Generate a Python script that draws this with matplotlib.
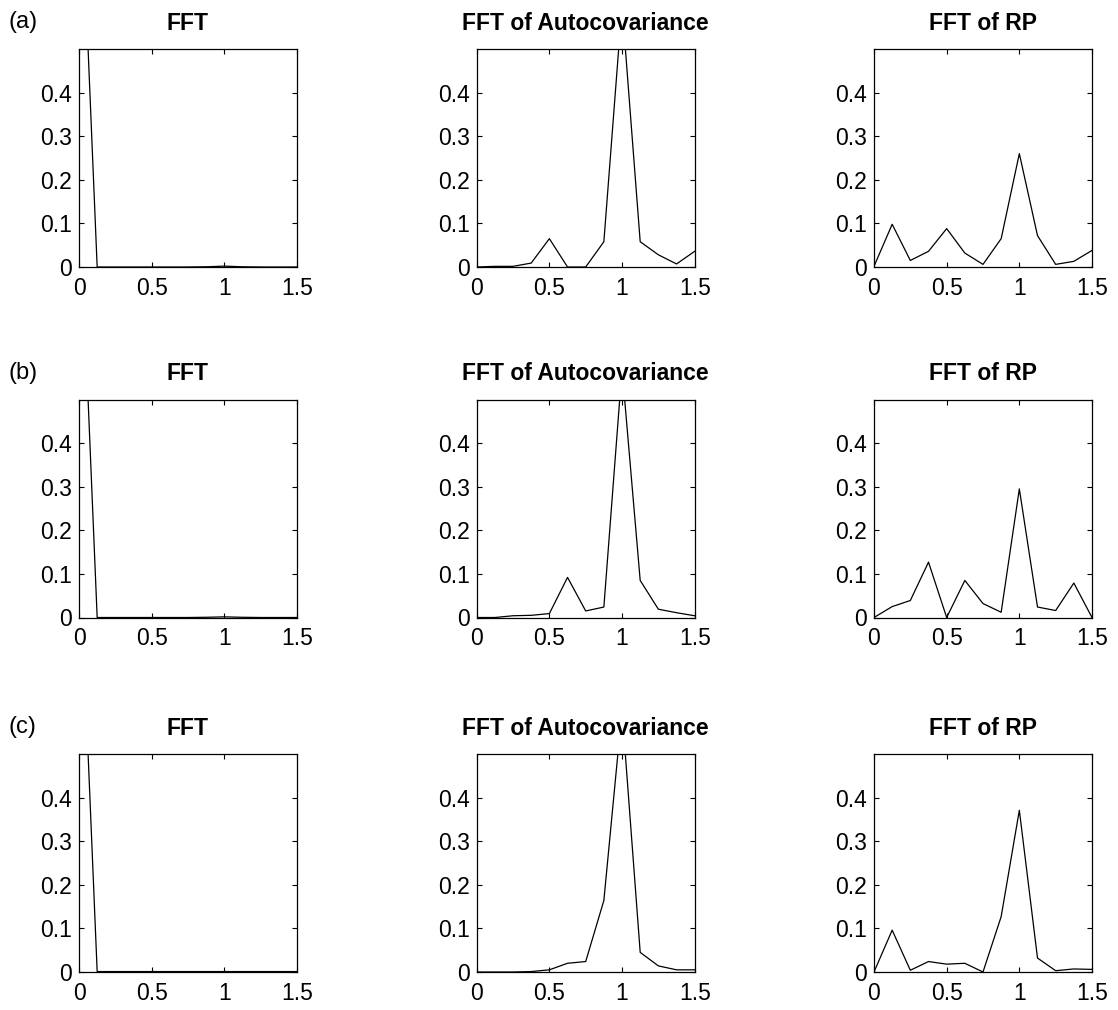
import numpy as np
import matplotlib
matplotlib.use("Agg")
import matplotlib.pyplot as plt

plt.rcParams['font.family'] = ['Liberation Sans', 'DejaVu Sans']

freq = [0, 0.125, 0.25, 0.375, 0.5, 0.625, 0.75, 0.875, 1.0, 1.125, 1.25, 1.375, 1.5]

row_labels = ['(a)', '(b)', '(c)']
col_titles = ['FFT', 'FFT of Autocovariance', 'FFT of RP']

fft_a = [1.0, 0.0, 0.0, 0.0, 0.0, 0.0, 0.0, 0.0005, 0.002, 0.0005, 0.0, 0.0, 0.0]
fft_b = [1.0, 0.0, 0.0, 0.0, 0.0, 0.0, 0.0, 0.0005, 0.0015, 0.0005, 0.0, 0.0, 0.0]
fft_c = [1.0, 0.001, 0.001, 0.001, 0.001, 0.001, 0.001, 0.001, 0.001, 0.001, 0.001, 0.001, 0.001]

acov_a = [0.0, 0.0015, 0.0015, 0.009, 0.065, 0.0, 0.0, 0.058, 0.6, 0.058, 0.028, 0.007, 0.036]
acov_b = [0.0, 0.0, 0.004, 0.005, 0.009, 0.092, 0.015, 0.024, 0.57, 0.085, 0.019, 0.011, 0.004]
acov_c = [0.0, 0.0, 0.0, 0.001, 0.005, 0.02, 0.024, 0.164, 0.6, 0.045, 0.014, 0.005, 0.005]

rp_a = [0.0015, 0.098, 0.015, 0.036, 0.088, 0.032, 0.006, 0.065, 0.26, 0.072, 0.006, 0.013, 0.038]
rp_b = [0.0, 0.025, 0.039, 0.127, 0.0, 0.085, 0.032, 0.012, 0.295, 0.024, 0.016, 0.079, 0.0]
rp_c = [0.0, 0.096, 0.004, 0.024, 0.018, 0.02, 0.0, 0.127, 0.371, 0.032, 0.003, 0.007, 0.006]

data = [[fft_a, acov_a, rp_a],
        [fft_b, acov_b, rp_b],
        [fft_c, acov_c, rp_c]]

xticks = [0, 0.5, 1, 1.5]
xticklabels = ['0', '0.5', '1', '1.5']
yticks = [0, 0.1, 0.2, 0.3, 0.4]
yticklabels = ['0', '0.1', '0.2', '0.3', '0.4']

W, H = 1118, 1010
fig = plt.figure(figsize=(W / 100, H / 100), dpi=100)

col_left = [79, 476.7, 874]
row_top = [49, 399.5, 754]
aw, ah = 218, 218

for r in range(3):
    for c in range(3):
        ax = fig.add_axes([col_left[c] / W, 1 - (row_top[r] + ah) / H, aw / W, ah / H])
        ax.plot(freq, data[r][c], color='black', linewidth=0.9)
        ax.set_xlim(0, 1.5)
        ax.set_ylim(0, 0.5)
        ax.set_xticks(xticks)
        ax.set_xticklabels(xticklabels)
        ax.set_yticks(yticks)
        ax.set_yticklabels(yticklabels)
        ax.tick_params(direction='in', length=3.5, width=0.8, top=True, right=True,
                       labelsize=16.5, colors='black')
        ax.tick_params(axis='y', pad=5)
        ax.tick_params(axis='x', pad=7)
        for s in ax.spines.values():
            s.set_linewidth(0.9)
        ax.set_title(col_titles[c], fontsize=16.5, fontweight='bold', pad=14)
    fig.text(9 / W, 1 - (row_top[r] - 27) / H, row_labels[r], fontsize=17,
             ha='left', va='center')

fig.savefig('out.png', dpi=100, facecolor='white')
